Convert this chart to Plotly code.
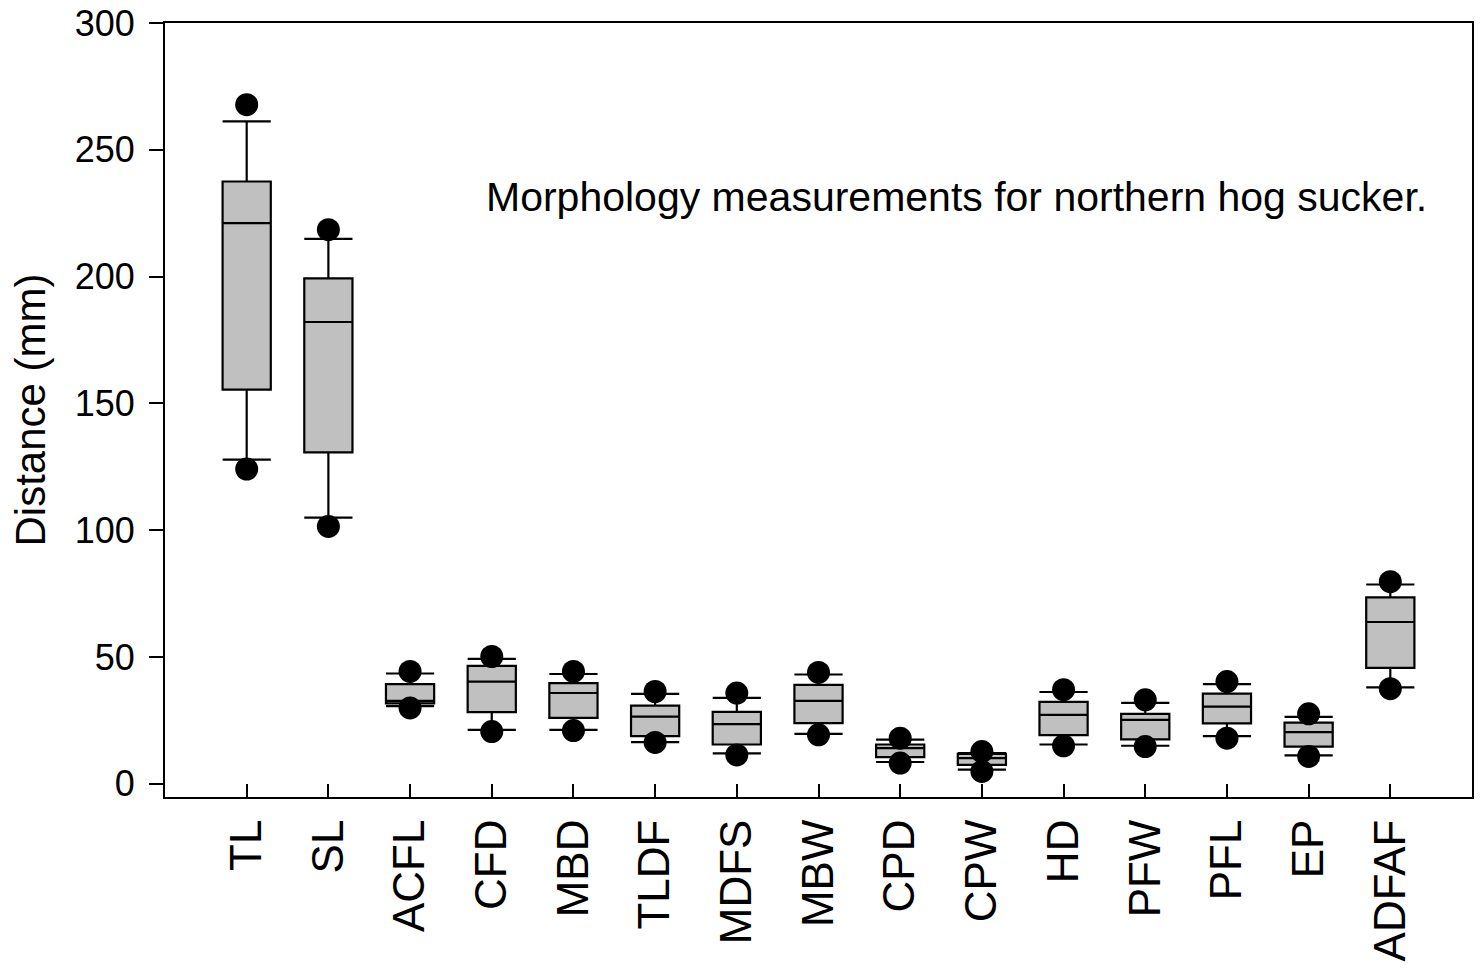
import plotly.graph_objects as go

categories = ["TL", "SL", "ACFL", "CFD", "MBD", "TLDF", "MDFS", "MBW",
              "CPD", "CPW", "HD", "PFW", "PFL", "EP", "ADFAF"]
p95 = [267.8, 218.5, 44.3, 50.2, 44.3, 36.4, 35.8, 43.9, 18.0, 12.7, 37.1, 33.1, 40.3, 27.6, 79.7]
p90 = [261.2, 214.9, 43.5, 49.3, 43.3, 35.5, 33.9, 43.1, 17.4, 12.1, 36.2, 31.9, 39.3, 26.4, 78.6]
q3 = [237.5, 199.3, 39.3, 46.5, 39.7, 30.8, 28.4, 39.0, 15.5, 11.8, 32.3, 27.6, 35.6, 24.1, 73.5]
median = [221.1, 182.1, 32.7, 40.3, 35.8, 26.5, 23.5, 32.7, 14.1, 10.1, 27.2, 25.2, 30.4, 20.4, 63.8]
q1 = [155.4, 130.7, 31.7, 28.3, 26.0, 18.8, 15.5, 23.9, 10.5, 7.5, 19.2, 17.5, 23.8, 14.7, 45.7]
p10 = [127.8, 105.0, 30.6, 21.3, 21.3, 16.4, 12.0, 19.7, 8.6, 5.6, 15.5, 15.0, 18.8, 11.2, 38.0]
p5 = [124.1, 101.5, 29.9, 20.6, 21.0, 16.3, 11.4, 19.3, 8.2, 4.9, 15.0, 14.7, 18.0, 10.8, 37.5]

y_ticks = [0, 50, 100, 150, 200, 250, 300]
y_title = "Distance (mm)"
note = "Morphology measurements for northern hog sucker."

FONT = "Liberation Sans, Arial, sans-serif"

fig = go.Figure()
fig.add_trace(go.Box(
    x=categories, q1=q1, median=median, q3=q3,
    lowerfence=p10, upperfence=p90,
    boxpoints=False, width=0.59, whiskerwidth=1,
    fillcolor="#c0c0c0", line=dict(color="black", width=2.2),
    showlegend=False, hoverinfo="skip",
))
fig.add_trace(go.Scatter(
    x=categories + categories, y=p95 + p5, mode="markers",
    marker=dict(color="black", size=23, line=dict(width=0)),
    showlegend=False, hoverinfo="skip",
))

fig.update_layout(
    width=1480, height=972,
    margin=dict(l=165, r=8, t=23, b=175, autoexpand=False),
    paper_bgcolor="white", plot_bgcolor="white",
    font=dict(family=FONT, color="black"),
    xaxis=dict(
        type="category", range=[-1, 15],
        showline=True, linecolor="black", linewidth=2, mirror=True,
        ticks="inside", ticklen=13, tickwidth=2, tickcolor="black",
        tickangle=-90, tickfont=dict(size=44, family=FONT),
        showgrid=False, zeroline=False, ticklabelstandoff=3,
        automargin=False, ticklabeloverflow="allow",
    ),
    yaxis=dict(
        range=[-5.2, 300], tickvals=y_ticks,
        showline=True, linecolor="black", linewidth=2, mirror=True,
        ticks="outside", ticklen=14, tickwidth=2, tickcolor="black",
        tickfont=dict(size=36, family=FONT),
        showgrid=False, zeroline=False, ticklabelstandoff=7,
        title=dict(text=y_title, font=dict(size=42, family=FONT), standoff=16),
        automargin=False, ticklabeloverflow="allow",
    ),
    annotations=[dict(
        text=note, xref="paper", yref="paper", x=0.244, y=0.775,
        xanchor="left", yanchor="middle", showarrow=False,
        font=dict(size=41, family=FONT, color="black"),
    )],
)
fig.write_html(
    "out.html",
    config={"displayModeBar": False},
    post_script="document.body.style.margin='0';document.body.style.overflow='hidden';",
)
